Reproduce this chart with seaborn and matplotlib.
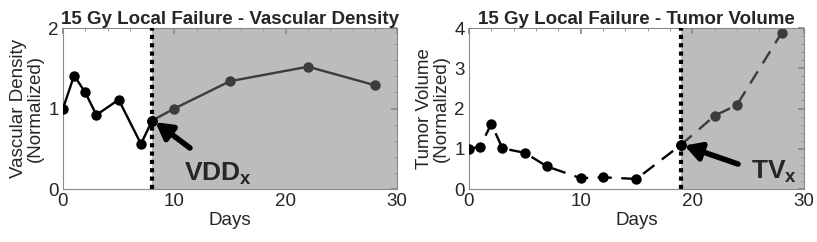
import numpy as np
import pandas as pd
import matplotlib
matplotlib.use("Agg")
import matplotlib.pyplot as plt
from matplotlib.ticker import MultipleLocator
import seaborn as sns

sns.set_theme(style="white")
plt.rcParams['font.family'] = ['Liberation Sans', 'DejaVu Sans']
plt.rcParams['mathtext.fontset'] = 'custom'
plt.rcParams['mathtext.rm'] = 'Liberation Sans'
plt.rcParams['mathtext.bf'] = 'Liberation Sans:bold'

# Data
vd_days = [0, 1, 2, 3, 5, 7, 8, 10, 15, 22, 28]
vd_vals = [1.00, 1.41, 1.20, 0.92, 1.11, 0.56, 0.85, 1.00, 1.34, 1.52, 1.29]
vd_cut = 8

tv_days = [0, 1, 2, 3, 5, 7, 10, 12, 15, 19, 22, 24, 28]
tv_vals = [1.00, 1.05, 1.62, 1.01, 0.90, 0.56, 0.27, 0.29, 0.25, 1.10, 1.82, 2.09, 3.88]
tv_cut = 19

titles = ["15 Gy Local Failure - Vascular Density", "15 Gy Local Failure - Tumor Volume"]
ylabels = ["Vascular Density\n(Normalized)", "Tumor Volume\n(Normalized)"]
xlabel = "Days"
labels = [r"$\mathbf{VDD}_\mathbf{x}$", r"$\mathbf{TV}_\mathbf{x}$"]

fig = plt.figure(figsize=(8.17, 2.42), dpi=100)
ax1 = fig.add_axes([0.0771, 0.219, 0.409, 0.665])
ax2 = fig.add_axes([0.574, 0.219, 0.410, 0.665])

pre_col = "black"
post_col = "#3c3c3c"
shade = "#bdbbbb"
frame = "#8a8a8a"

def draw(ax, days, vals, cut, ymax, ls, title, ylabel, label, arrow_tail, arrow_head, text_pos):
    df = pd.DataFrame({"d": days, "v": vals})
    pre = df[df.d <= cut]
    post = df[df.d >= cut]
    ax.axvspan(cut, 30, color=shade, lw=0, zorder=0)
    sns.lineplot(data=pre, x="d", y="v", ax=ax, color=pre_col, lw=1.7, ls=ls,
                 marker="o", markersize=7.5, markeredgewidth=0, zorder=3)
    sns.lineplot(data=post, x="d", y="v", ax=ax, color=post_col, lw=1.7, ls=ls,
                 marker="o", markersize=7.5, markeredgewidth=0, zorder=2)
    cp = df[df.d == cut]
    ax.plot(cp.d, cp.v, "o", color=pre_col, markersize=7.5, mec="none", zorder=4)
    ax.axvline(cut, color="black", lw=3, ls=(0, (1, 1)), dash_capstyle="butt", zorder=5)
    ax.set_xlim(0, 30)
    ax.set_ylim(0, ymax)
    ax.xaxis.set_major_locator(MultipleLocator(10))
    ax.xaxis.set_minor_locator(MultipleLocator(2))
    ax.yaxis.set_major_locator(MultipleLocator(1))
    ax.yaxis.set_minor_locator(MultipleLocator(0.2))
    ax.tick_params(which="both", direction="in", top=True, right=True, color=frame,
                   labelsize=13.5, pad=3)
    ax.tick_params(which="major", length=4)
    ax.tick_params(which="minor", length=2, width=0.6)
    for s in ax.spines.values():
        s.set_color(frame)
        s.set_linewidth(0.8)
    ax.set_title(title, fontsize=13.5, fontweight="bold", pad=3)
    ax.set_xlabel(xlabel, fontsize=13.5, labelpad=1)
    ax.set_ylabel(ylabel, fontsize=13.5, labelpad=3, linespacing=1.0)
    ax.annotate("", xy=arrow_head, xytext=arrow_tail,
                arrowprops=dict(arrowstyle="-|>,head_length=0.8,head_width=0.45",
                                color="black", lw=4, shrinkA=0, shrinkB=0),
                zorder=6)
    ax.text(text_pos[0], text_pos[1], label, fontsize=19, fontweight="bold",
            ha="left", va="baseline", zorder=6)

draw(ax1, vd_days, vd_vals, vd_cut, 2, "-", titles[0], ylabels[0], labels[0],
     (11.4, 0.51), (8.3, 0.83), (10.9, 0.11))
draw(ax2, tv_days, tv_vals, tv_cut, 4, (0, (6, 4)), titles[1], ylabels[1], labels[1],
     (24.1, 0.62), (19.3, 1.08), (25.3, 0.27))

fig.savefig("out.png", dpi=100)
